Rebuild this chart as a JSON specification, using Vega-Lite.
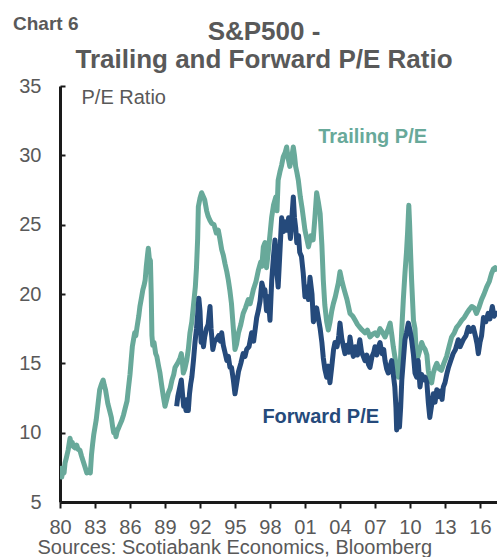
{
  "$schema": "https://vega.github.io/schema/vega-lite/v6.json",
  "width": 437,
  "height": 416,
  "autosize": {"type": "none"},
  "padding": {"left": 60, "top": 86, "right": 0, "bottom": 55},
  "background": "white",
  "config": {
    "view": {"stroke": null},
    "font": "Liberation Sans",
    "axis": {"grid": false, "domainColor": "#1a1a1a", "tickColor": "#1a1a1a", "labelColor": "#595959", "titleColor": "#595959", "labelFont": "Liberation Sans", "titleFont": "Liberation Sans", "labelFontSize": 20, "titleFontSize": 20, "titleFontWeight": "normal", "domainWidth": 3, "tickWidth": 2, "labelOverlap": false},
    "axisX": {"labelOverlap": false, "labelBound": false}
  },
  "title": {
    "text": ["S&P500 -", "Trailing and Forward P/E Ratio"],
    "anchor": "middle",
    "frame": "group",
    "baseline": "alphabetic",
    "dx": -14.5,
    "fontSize": 26,
    "fontWeight": "bold",
    "color": "#595959",
    "lineHeight": 27.5,
    "offset": -78.5
  },
  "datasets": {
    "trailing": [
      {"year": 1980.0, "pe": 7.6}, {"year": 1980.08, "pe": 7.2}, {"year": 1980.15, "pe": 6.8}, {"year": 1980.25, "pe": 7.3}, {"year": 1980.35, "pe": 7.1}, {"year": 1980.43, "pe": 7.8}, {"year": 1980.55, "pe": 8.2}, {"year": 1980.7, "pe": 8.75}, {"year": 1980.8, "pe": 9.3}, {"year": 1980.86, "pe": 9.6}, {"year": 1980.95, "pe": 9.2}, {"year": 1981.05, "pe": 9.3}, {"year": 1981.14, "pe": 9.0}, {"year": 1981.3, "pe": 8.9}, {"year": 1981.43, "pe": 9.1}, {"year": 1981.55, "pe": 8.8}, {"year": 1981.7, "pe": 8.75}, {"year": 1981.85, "pe": 8.3}, {"year": 1982.0, "pe": 7.9}, {"year": 1982.15, "pe": 7.5}, {"year": 1982.3, "pe": 7.1}, {"year": 1982.45, "pe": 7.3}, {"year": 1982.6, "pe": 7.1}, {"year": 1982.7, "pe": 8.4}, {"year": 1982.8, "pe": 9.2}, {"year": 1982.9, "pe": 9.9}, {"year": 1983.0, "pe": 10.4}, {"year": 1983.1, "pe": 10.9}, {"year": 1983.25, "pe": 12.0}, {"year": 1983.4, "pe": 13.1}, {"year": 1983.55, "pe": 13.5}, {"year": 1983.7, "pe": 13.8}, {"year": 1983.8, "pe": 13.4}, {"year": 1983.9, "pe": 13.1}, {"year": 1984.0, "pe": 12.6}, {"year": 1984.1, "pe": 12.1}, {"year": 1984.25, "pe": 11.6}, {"year": 1984.4, "pe": 11.1}, {"year": 1984.5, "pe": 10.5}, {"year": 1984.6, "pe": 10.0}, {"year": 1984.7, "pe": 10.2}, {"year": 1984.8, "pe": 9.7}, {"year": 1984.9, "pe": 10.1}, {"year": 1985.0, "pe": 10.3}, {"year": 1985.15, "pe": 10.6}, {"year": 1985.3, "pe": 10.9}, {"year": 1985.45, "pe": 11.3}, {"year": 1985.6, "pe": 11.8}, {"year": 1985.75, "pe": 12.3}, {"year": 1985.85, "pe": 13.1}, {"year": 1986.0, "pe": 14.2}, {"year": 1986.1, "pe": 15.2}, {"year": 1986.2, "pe": 16.2}, {"year": 1986.3, "pe": 16.7}, {"year": 1986.4, "pe": 17.2}, {"year": 1986.5, "pe": 17.0}, {"year": 1986.6, "pe": 17.6}, {"year": 1986.75, "pe": 18.4}, {"year": 1986.85, "pe": 19.1}, {"year": 1987.0, "pe": 19.8}, {"year": 1987.1, "pe": 20.3}, {"year": 1987.2, "pe": 20.6}, {"year": 1987.3, "pe": 21.0}, {"year": 1987.4, "pe": 22.0}, {"year": 1987.5, "pe": 22.8}, {"year": 1987.57, "pe": 23.3}, {"year": 1987.65, "pe": 22.6}, {"year": 1987.75, "pe": 22.4}, {"year": 1987.82, "pe": 20.0}, {"year": 1987.88, "pe": 17.0}, {"year": 1987.95, "pe": 16.3}, {"year": 1988.06, "pe": 16.5}, {"year": 1988.2, "pe": 15.7}, {"year": 1988.3, "pe": 15.5}, {"year": 1988.45, "pe": 14.8}, {"year": 1988.57, "pe": 14.3}, {"year": 1988.7, "pe": 13.5}, {"year": 1988.86, "pe": 12.6}, {"year": 1989.0, "pe": 11.9}, {"year": 1989.15, "pe": 12.4}, {"year": 1989.3, "pe": 12.9}, {"year": 1989.45, "pe": 13.2}, {"year": 1989.6, "pe": 13.8}, {"year": 1989.75, "pe": 14.2}, {"year": 1989.86, "pe": 14.7}, {"year": 1990.0, "pe": 14.9}, {"year": 1990.14, "pe": 15.1}, {"year": 1990.3, "pe": 15.4}, {"year": 1990.4, "pe": 15.7}, {"year": 1990.5, "pe": 15.0}, {"year": 1990.57, "pe": 14.3}, {"year": 1990.7, "pe": 14.6}, {"year": 1990.86, "pe": 15.2}, {"year": 1991.0, "pe": 16.0}, {"year": 1991.14, "pe": 17.2}, {"year": 1991.3, "pe": 18.0}, {"year": 1991.43, "pe": 19.1}, {"year": 1991.6, "pe": 20.5}, {"year": 1991.7, "pe": 21.9}, {"year": 1991.8, "pe": 24.0}, {"year": 1991.86, "pe": 26.3}, {"year": 1992.0, "pe": 26.9}, {"year": 1992.14, "pe": 27.3}, {"year": 1992.3, "pe": 27.0}, {"year": 1992.4, "pe": 26.8}, {"year": 1992.57, "pe": 26.0}, {"year": 1992.7, "pe": 25.6}, {"year": 1992.86, "pe": 25.3}, {"year": 1993.0, "pe": 25.1}, {"year": 1993.2, "pe": 25.0}, {"year": 1993.4, "pe": 24.4}, {"year": 1993.57, "pe": 24.6}, {"year": 1993.7, "pe": 24.0}, {"year": 1993.86, "pe": 23.2}, {"year": 1994.0, "pe": 22.8}, {"year": 1994.14, "pe": 22.2}, {"year": 1994.3, "pe": 21.6}, {"year": 1994.43, "pe": 21.0}, {"year": 1994.57, "pe": 20.2}, {"year": 1994.7, "pe": 19.3}, {"year": 1994.86, "pe": 17.5}, {"year": 1995.0, "pe": 16.0}, {"year": 1995.14, "pe": 16.4}, {"year": 1995.3, "pe": 17.2}, {"year": 1995.5, "pe": 17.8}, {"year": 1995.7, "pe": 18.6}, {"year": 1995.9, "pe": 19.0}, {"year": 1996.14, "pe": 19.6}, {"year": 1996.3, "pe": 19.3}, {"year": 1996.57, "pe": 20.3}, {"year": 1996.8, "pe": 20.9}, {"year": 1997.0, "pe": 21.7}, {"year": 1997.2, "pe": 22.3}, {"year": 1997.3, "pe": 22.0}, {"year": 1997.43, "pe": 23.4}, {"year": 1997.57, "pe": 23.7}, {"year": 1997.7, "pe": 21.9}, {"year": 1997.85, "pe": 23.0}, {"year": 1998.0, "pe": 24.3}, {"year": 1998.14, "pe": 25.5}, {"year": 1998.3, "pe": 26.4}, {"year": 1998.5, "pe": 27.0}, {"year": 1998.6, "pe": 26.0}, {"year": 1998.7, "pe": 28.2}, {"year": 1998.85, "pe": 28.8}, {"year": 1999.0, "pe": 29.3}, {"year": 1999.14, "pe": 29.9}, {"year": 1999.3, "pe": 30.2}, {"year": 1999.43, "pe": 30.6}, {"year": 1999.55, "pe": 29.8}, {"year": 1999.7, "pe": 29.2}, {"year": 1999.85, "pe": 29.8}, {"year": 2000.0, "pe": 30.6}, {"year": 2000.1, "pe": 30.0}, {"year": 2000.2, "pe": 29.2}, {"year": 2000.3, "pe": 28.8}, {"year": 2000.43, "pe": 28.2}, {"year": 2000.6, "pe": 27.0}, {"year": 2000.75, "pe": 26.2}, {"year": 2000.86, "pe": 25.5}, {"year": 2001.0, "pe": 24.6}, {"year": 2001.15, "pe": 24.0}, {"year": 2001.3, "pe": 23.4}, {"year": 2001.5, "pe": 24.2}, {"year": 2001.7, "pe": 23.9}, {"year": 2001.85, "pe": 25.5}, {"year": 2002.0, "pe": 27.3}, {"year": 2002.15, "pe": 26.6}, {"year": 2002.3, "pe": 25.8}, {"year": 2002.45, "pe": 23.5}, {"year": 2002.57, "pe": 21.0}, {"year": 2002.7, "pe": 19.2}, {"year": 2002.86, "pe": 18.0}, {"year": 2003.0, "pe": 17.4}, {"year": 2003.15, "pe": 18.0}, {"year": 2003.3, "pe": 18.8}, {"year": 2003.43, "pe": 19.3}, {"year": 2003.6, "pe": 19.8}, {"year": 2003.86, "pe": 20.8}, {"year": 2004.0, "pe": 21.6}, {"year": 2004.15, "pe": 21.0}, {"year": 2004.3, "pe": 20.5}, {"year": 2004.43, "pe": 20.1}, {"year": 2004.6, "pe": 19.6}, {"year": 2004.86, "pe": 18.6}, {"year": 2005.1, "pe": 18.4}, {"year": 2005.3, "pe": 18.1}, {"year": 2005.5, "pe": 17.8}, {"year": 2005.7, "pe": 17.6}, {"year": 2005.9, "pe": 17.4}, {"year": 2006.14, "pe": 17.2}, {"year": 2006.35, "pe": 17.4}, {"year": 2006.57, "pe": 16.9}, {"year": 2006.8, "pe": 17.1}, {"year": 2007.0, "pe": 17.2}, {"year": 2007.2, "pe": 17.0}, {"year": 2007.43, "pe": 17.5}, {"year": 2007.6, "pe": 17.3}, {"year": 2007.86, "pe": 16.9}, {"year": 2008.1, "pe": 17.4}, {"year": 2008.3, "pe": 17.9}, {"year": 2008.45, "pe": 17.0}, {"year": 2008.57, "pe": 16.2}, {"year": 2008.7, "pe": 15.5}, {"year": 2008.86, "pe": 14.7}, {"year": 2009.0, "pe": 14.0}, {"year": 2009.14, "pe": 14.3}, {"year": 2009.3, "pe": 17.5}, {"year": 2009.43, "pe": 19.6}, {"year": 2009.57, "pe": 21.5}, {"year": 2009.7, "pe": 23.0}, {"year": 2009.8, "pe": 24.5}, {"year": 2009.9, "pe": 26.4}, {"year": 2009.97, "pe": 25.0}, {"year": 2010.05, "pe": 23.0}, {"year": 2010.14, "pe": 21.0}, {"year": 2010.3, "pe": 18.1}, {"year": 2010.43, "pe": 17.5}, {"year": 2010.57, "pe": 15.2}, {"year": 2010.7, "pe": 15.5}, {"year": 2010.86, "pe": 16.0}, {"year": 2011.0, "pe": 16.5}, {"year": 2011.14, "pe": 16.2}, {"year": 2011.3, "pe": 16.0}, {"year": 2011.45, "pe": 15.6}, {"year": 2011.57, "pe": 14.5}, {"year": 2011.7, "pe": 13.8}, {"year": 2011.86, "pe": 13.6}, {"year": 2012.0, "pe": 14.3}, {"year": 2012.15, "pe": 14.7}, {"year": 2012.3, "pe": 15.0}, {"year": 2012.5, "pe": 14.6}, {"year": 2012.7, "pe": 14.5}, {"year": 2012.9, "pe": 15.0}, {"year": 2013.14, "pe": 15.5}, {"year": 2013.35, "pe": 16.2}, {"year": 2013.57, "pe": 16.9}, {"year": 2013.8, "pe": 17.2}, {"year": 2014.0, "pe": 17.6}, {"year": 2014.2, "pe": 17.8}, {"year": 2014.43, "pe": 18.1}, {"year": 2014.65, "pe": 18.3}, {"year": 2014.86, "pe": 18.6}, {"year": 2015.1, "pe": 18.9}, {"year": 2015.3, "pe": 19.1}, {"year": 2015.5, "pe": 19.0}, {"year": 2015.7, "pe": 18.6}, {"year": 2015.9, "pe": 19.0}, {"year": 2016.14, "pe": 19.6}, {"year": 2016.35, "pe": 20.0}, {"year": 2016.57, "pe": 20.5}, {"year": 2016.8, "pe": 20.9}, {"year": 2017.0, "pe": 21.5}, {"year": 2017.15, "pe": 21.8}, {"year": 2017.3, "pe": 21.9}, {"year": 2017.4, "pe": 21.6}
    ],
    "forward": [
      {"year": 1990.0, "pe": 11.9}, {"year": 1990.1, "pe": 12.6}, {"year": 1990.25, "pe": 13.2}, {"year": 1990.4, "pe": 13.8}, {"year": 1990.5, "pe": 12.8}, {"year": 1990.6, "pe": 11.9}, {"year": 1990.7, "pe": 12.2}, {"year": 1990.8, "pe": 11.6}, {"year": 1990.9, "pe": 12.4}, {"year": 1991.0, "pe": 11.6}, {"year": 1991.1, "pe": 12.8}, {"year": 1991.2, "pe": 13.5}, {"year": 1991.3, "pe": 14.0}, {"year": 1991.45, "pe": 15.3}, {"year": 1991.57, "pe": 16.5}, {"year": 1991.7, "pe": 17.5}, {"year": 1991.8, "pe": 18.5}, {"year": 1991.9, "pe": 19.7}, {"year": 1992.0, "pe": 18.8}, {"year": 1992.1, "pe": 16.5}, {"year": 1992.2, "pe": 17.0}, {"year": 1992.3, "pe": 16.2}, {"year": 1992.4, "pe": 16.9}, {"year": 1992.55, "pe": 17.5}, {"year": 1992.7, "pe": 17.8}, {"year": 1992.86, "pe": 19.1}, {"year": 1992.95, "pe": 17.5}, {"year": 1993.1, "pe": 16.0}, {"year": 1993.25, "pe": 16.6}, {"year": 1993.4, "pe": 16.7}, {"year": 1993.6, "pe": 17.0}, {"year": 1993.75, "pe": 16.6}, {"year": 1993.86, "pe": 17.2}, {"year": 1994.0, "pe": 16.3}, {"year": 1994.14, "pe": 15.8}, {"year": 1994.3, "pe": 15.2}, {"year": 1994.43, "pe": 15.5}, {"year": 1994.57, "pe": 14.7}, {"year": 1994.7, "pe": 14.7}, {"year": 1994.86, "pe": 13.8}, {"year": 1995.0, "pe": 12.8}, {"year": 1995.15, "pe": 13.6}, {"year": 1995.3, "pe": 14.4}, {"year": 1995.5, "pe": 15.0}, {"year": 1995.7, "pe": 15.7}, {"year": 1995.86, "pe": 15.5}, {"year": 1996.0, "pe": 16.0}, {"year": 1996.2, "pe": 16.2}, {"year": 1996.43, "pe": 17.2}, {"year": 1996.6, "pe": 16.6}, {"year": 1996.86, "pe": 18.3}, {"year": 1997.0, "pe": 18.8}, {"year": 1997.15, "pe": 19.5}, {"year": 1997.3, "pe": 20.8}, {"year": 1997.45, "pe": 20.3}, {"year": 1997.57, "pe": 20.3}, {"year": 1997.7, "pe": 18.8}, {"year": 1997.85, "pe": 19.8}, {"year": 1998.0, "pe": 18.1}, {"year": 1998.15, "pe": 21.0}, {"year": 1998.3, "pe": 22.7}, {"year": 1998.43, "pe": 23.9}, {"year": 1998.6, "pe": 21.5}, {"year": 1998.7, "pe": 20.5}, {"year": 1998.85, "pe": 23.0}, {"year": 1999.0, "pe": 25.5}, {"year": 1999.15, "pe": 24.5}, {"year": 1999.3, "pe": 25.2}, {"year": 1999.43, "pe": 24.6}, {"year": 1999.6, "pe": 25.5}, {"year": 1999.75, "pe": 24.0}, {"year": 1999.9, "pe": 25.8}, {"year": 2000.0, "pe": 27.0}, {"year": 2000.1, "pe": 25.5}, {"year": 2000.2, "pe": 24.8}, {"year": 2000.3, "pe": 23.7}, {"year": 2000.45, "pe": 24.2}, {"year": 2000.55, "pe": 23.0}, {"year": 2000.7, "pe": 22.7}, {"year": 2000.85, "pe": 21.5}, {"year": 2001.0, "pe": 19.8}, {"year": 2001.15, "pe": 20.5}, {"year": 2001.3, "pe": 19.6}, {"year": 2001.43, "pe": 21.2}, {"year": 2001.6, "pe": 20.0}, {"year": 2001.72, "pe": 18.0}, {"year": 2001.86, "pe": 18.3}, {"year": 2002.0, "pe": 19.0}, {"year": 2002.14, "pe": 18.3}, {"year": 2002.3, "pe": 17.5}, {"year": 2002.45, "pe": 16.5}, {"year": 2002.57, "pe": 15.4}, {"year": 2002.7, "pe": 14.6}, {"year": 2002.86, "pe": 14.0}, {"year": 2003.0, "pe": 14.8}, {"year": 2003.14, "pe": 13.6}, {"year": 2003.3, "pe": 14.8}, {"year": 2003.45, "pe": 16.0}, {"year": 2003.57, "pe": 16.5}, {"year": 2003.75, "pe": 16.2}, {"year": 2003.9, "pe": 17.0}, {"year": 2004.0, "pe": 17.9}, {"year": 2004.15, "pe": 16.8}, {"year": 2004.3, "pe": 16.2}, {"year": 2004.43, "pe": 15.7}, {"year": 2004.6, "pe": 16.3}, {"year": 2004.75, "pe": 15.8}, {"year": 2004.86, "pe": 16.9}, {"year": 2005.0, "pe": 16.0}, {"year": 2005.15, "pe": 15.5}, {"year": 2005.3, "pe": 16.2}, {"year": 2005.5, "pe": 15.6}, {"year": 2005.7, "pe": 16.7}, {"year": 2005.85, "pe": 15.8}, {"year": 2006.0, "pe": 15.5}, {"year": 2006.14, "pe": 15.2}, {"year": 2006.3, "pe": 15.6}, {"year": 2006.45, "pe": 14.9}, {"year": 2006.57, "pe": 14.7}, {"year": 2006.75, "pe": 15.5}, {"year": 2006.9, "pe": 15.8}, {"year": 2007.0, "pe": 16.2}, {"year": 2007.15, "pe": 15.6}, {"year": 2007.3, "pe": 16.2}, {"year": 2007.43, "pe": 16.5}, {"year": 2007.6, "pe": 15.7}, {"year": 2007.75, "pe": 16.0}, {"year": 2007.86, "pe": 15.2}, {"year": 2008.0, "pe": 14.6}, {"year": 2008.14, "pe": 14.3}, {"year": 2008.3, "pe": 14.8}, {"year": 2008.43, "pe": 15.2}, {"year": 2008.57, "pe": 14.2}, {"year": 2008.7, "pe": 13.3}, {"year": 2008.8, "pe": 11.8}, {"year": 2008.86, "pe": 10.2}, {"year": 2008.92, "pe": 11.4}, {"year": 2009.0, "pe": 12.0}, {"year": 2009.1, "pe": 10.4}, {"year": 2009.2, "pe": 11.8}, {"year": 2009.3, "pe": 13.8}, {"year": 2009.43, "pe": 15.2}, {"year": 2009.57, "pe": 16.7}, {"year": 2009.7, "pe": 17.2}, {"year": 2009.86, "pe": 17.9}, {"year": 2010.0, "pe": 17.4}, {"year": 2010.14, "pe": 16.7}, {"year": 2010.3, "pe": 15.6}, {"year": 2010.43, "pe": 14.3}, {"year": 2010.57, "pe": 14.0}, {"year": 2010.7, "pe": 15.2}, {"year": 2010.86, "pe": 13.3}, {"year": 2011.0, "pe": 14.2}, {"year": 2011.14, "pe": 13.8}, {"year": 2011.3, "pe": 14.0}, {"year": 2011.45, "pe": 13.6}, {"year": 2011.57, "pe": 12.2}, {"year": 2011.7, "pe": 11.1}, {"year": 2011.86, "pe": 12.0}, {"year": 2012.0, "pe": 12.8}, {"year": 2012.15, "pe": 12.2}, {"year": 2012.3, "pe": 13.1}, {"year": 2012.43, "pe": 12.6}, {"year": 2012.6, "pe": 13.0}, {"year": 2012.75, "pe": 12.4}, {"year": 2012.86, "pe": 13.3}, {"year": 2013.0, "pe": 13.6}, {"year": 2013.15, "pe": 14.2}, {"year": 2013.3, "pe": 14.7}, {"year": 2013.5, "pe": 15.2}, {"year": 2013.7, "pe": 15.7}, {"year": 2013.9, "pe": 16.0}, {"year": 2014.14, "pe": 16.7}, {"year": 2014.3, "pe": 16.2}, {"year": 2014.57, "pe": 16.7}, {"year": 2014.8, "pe": 17.0}, {"year": 2015.0, "pe": 17.6}, {"year": 2015.2, "pe": 17.3}, {"year": 2015.43, "pe": 17.6}, {"year": 2015.6, "pe": 17.0}, {"year": 2015.75, "pe": 16.4}, {"year": 2015.86, "pe": 15.7}, {"year": 2016.0, "pe": 16.5}, {"year": 2016.14, "pe": 17.0}, {"year": 2016.3, "pe": 18.3}, {"year": 2016.5, "pe": 18.0}, {"year": 2016.7, "pe": 18.6}, {"year": 2016.85, "pe": 18.2}, {"year": 2017.06, "pe": 19.1}, {"year": 2017.2, "pe": 18.4}, {"year": 2017.37, "pe": 18.6}, {"year": 2017.42, "pe": 18.8}
    ],
    "labels": [
      {"series": "Trailing", "text": "Trailing P/E", "year": 2006.8, "pe": 31.3},
      {"series": "Forward", "text": "Forward P/E", "year": 2002.35, "pe": 11.15}
    ],
    "corner": [
      {"text": "Chart 6", "year": 1975.97, "pe": 39.03}
    ]
  },
  "layer": [
    {
      "data": {"name": "trailing"},
      "mark": {"type": "line", "color": "#68a99a", "strokeWidth": 5, "strokeJoin": "round", "clip": true},
      "encoding": {
        "x": {"field": "year", "type": "quantitative", "scale": {"domain": [1980, 2017.46], "nice": false, "zero": false},
          "axis": {"values": [1980, 1983, 1986, 1989, 1992, 1995, 1998, 2001, 2004, 2007, 2010, 2013, 2016], "tickCount": 30, "labelExpr": "format(datum.value % 100, '02d')", "labelOverlap": false, "labelFlush": false, "tickSize": 6, "labelPadding": 9, "title": "Sources: Scotiabank Economics, Bloomberg", "titleAnchor": "start", "titleAlign": "left", "titleBaseline": "alphabetic", "titleX": -23, "titleY": 51}},
        "y": {"field": "pe", "type": "quantitative", "scale": {"domain": [5, 35], "nice": false, "zero": false},
          "axis": {"values": [5, 10, 15, 20, 25, 30, 35], "tickCount": 20, "labelOverlap": false, "labelFlush": false, "tickSize": -5, "labelPadding": 24, "title": "P/E Ratio", "titleAngle": 0, "titleAlign": "left", "titleBaseline": "middle", "titleX": 21, "titleY": 11}}
      }
    },
    {
      "data": {"name": "forward"},
      "mark": {"type": "line", "color": "#254a7b", "strokeWidth": 5, "strokeJoin": "round", "clip": true},
      "encoding": {
        "x": {"field": "year", "type": "quantitative"},
        "y": {"field": "pe", "type": "quantitative"}
      }
    },
    {
      "data": {"name": "labels"},
      "mark": {"type": "text", "fontSize": 20, "fontWeight": "bold", "align": "center", "baseline": "middle"},
      "encoding": {
        "x": {"field": "year", "type": "quantitative"},
        "y": {"field": "pe", "type": "quantitative"},
        "text": {"field": "text"},
        "color": {"field": "series", "type": "nominal", "scale": {"domain": ["Trailing", "Forward"], "range": ["#68a99a", "#254a7b"]}, "legend": null}
      }
    },
    {
      "data": {"name": "corner"},
      "mark": {"type": "text", "fontSize": 19, "fontWeight": "bold", "align": "left", "baseline": "alphabetic", "font": "Liberation Sans", "color": "#595959"},
      "encoding": {
        "x": {"field": "year", "type": "quantitative"},
        "y": {"field": "pe", "type": "quantitative"},
        "text": {"field": "text"}
      }
    }
  ]
}
